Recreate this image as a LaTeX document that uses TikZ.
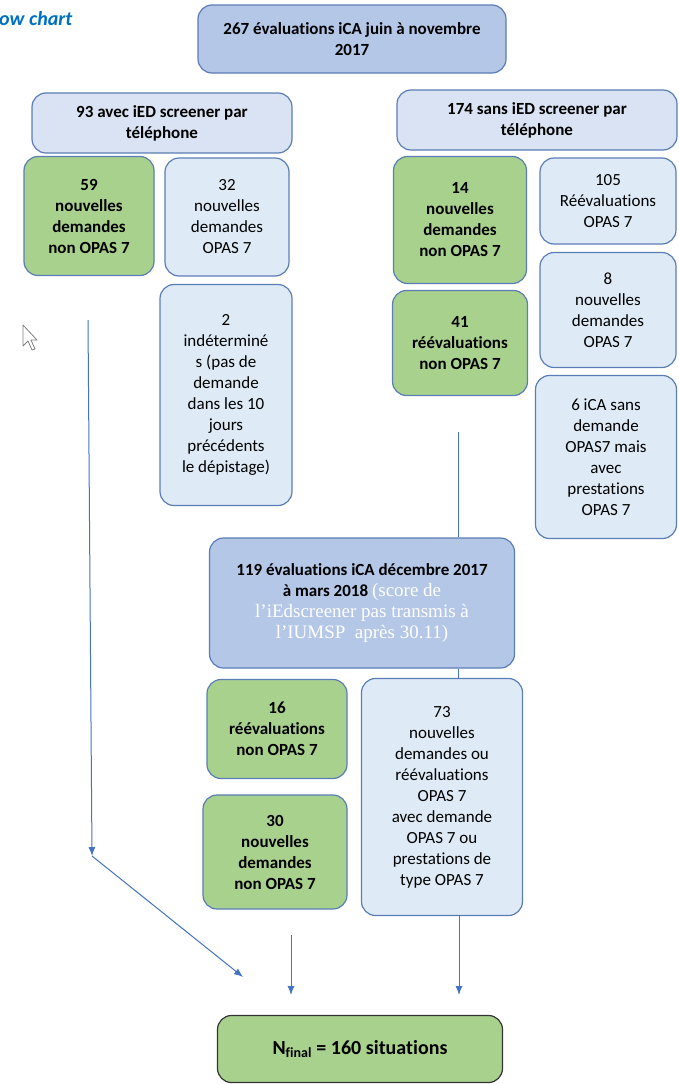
\documentclass[tikz,border=0pt]{standalone}
\usepackage{fontspec}
\setmainfont[Ligatures=NoCommon]{Carlito}
\newfontfamily\timesfont{Liberation Serif}
\usetikzlibrary{arrows.meta}
\usetikzlibrary{positioning}

\definecolor{boxline}{HTML}{5B7DB5}
\definecolor{darkblue}{HTML}{B4C7E7}
\definecolor{lightblue}{HTML}{DAE3F3}
\definecolor{paleblue}{HTML}{DEEBF7}
\definecolor{okgreen}{HTML}{A9D18E}
\definecolor{arrowblue}{HTML}{4472C4}
\definecolor{titleblue}{HTML}{0070C0}

\begin{document}
\begin{tikzpicture}[x=1pt, y=-1pt,
  box/.style={draw=boxline, line width=1.2pt, rounded corners=14pt, inner sep=0pt, align=center, font=\fontsize{17}{21}\selectfont},
  darkbox/.style={box, fill=darkblue, font=\fontsize{17}{21}\selectfont\bfseries},
  headbox/.style={box, fill=lightblue, font=\fontsize{17}{21}\selectfont\bfseries},
  palebox/.style={box, fill=paleblue},
  greenbox/.style={box, fill=okgreen, font=\fontsize{17}{21}\selectfont\bfseries},
  link/.style={draw=arrowblue, line width=1pt},
  arrow/.style={link, -{Latex[length=9pt, width=7pt]}}]
\useasboundingbox (0,0) rectangle (678,1084);
\node[anchor=base west, inner sep=0pt, text=titleblue, font=\fontsize{20}{22}\selectfont\bfseries\itshape] (title) at (-1,25) {ow chart};
\node[darkbox, minimum width=308pt, minimum height=68pt] (top) at (352,39) {267 évaluations iCA juin à novembre\\2017};
\node[headbox, minimum width=260pt, minimum height=60pt] (avec) at (162,123) {93 avec iED screener par\\téléphone};
\node[headbox, minimum width=280pt, minimum height=60pt] (sans) at (537,120) {174 sans iED screener par\\téléphone};
\node[greenbox, minimum width=130pt, minimum height=119pt] (g59) at (89,216) {59\\nouvelles\\demandes\\non OPAS 7};
\node[palebox, minimum width=124pt, minimum height=118pt] (b32) at (227,217) {32\\nouvelles\\demandes\\OPAS 7};
\node[palebox, minimum width=132pt, minimum height=221pt] (ind) at (226,395) {2\\indéterminé\\s (pas de\\demande\\dans les 10\\jours\\précédents\\le dépistage)};
\node[greenbox, minimum width=133pt, minimum height=127pt] (g14) at (460,220) {14\\nouvelles\\demandes\\non OPAS 7};
\node[palebox, minimum width=136pt, minimum height=86pt] (b105) at (608,201) {105\\Réévaluations\\OPAS 7};
\node[palebox, minimum width=136pt, minimum height=115pt] (b8) at (608,310) {8\\nouvelles\\demandes\\OPAS 7};
\node[greenbox, minimum width=135pt, minimum height=105pt] (g41) at (460,343) {41\\réévaluations\\non OPAS 7};
\node[palebox, minimum width=141pt, minimum height=163pt] (b6) at (606,457) {6 iCA sans\\demande\\OPAS7 mais\\avec\\prestations\\OPAS 7};
\node[darkbox, minimum width=305pt, minimum height=130pt] (d119) at (362,603) {119 évaluations iCA décembre 2017\\à mars 2018 {\timesfont\mdseries\fontsize{19}{21}\selectfont\color{white}(score de}\\{\timesfont\mdseries\fontsize{19}{21}\selectfont\color{white}l’iEdscreener pas transmis à}\\{\timesfont\mdseries\fontsize{19}{21}\selectfont\color{white}l’IUMSP\ \ après 30.11)}};
\node[greenbox, minimum width=140pt, minimum height=99pt] (g16) at (277,729) {16\\réévaluations\\non OPAS 7};
\node[greenbox, minimum width=144pt, minimum height=114pt] (g30) at (275,852) {30\\nouvelles\\demandes\\non OPAS 7};
\node[palebox, minimum width=161pt, minimum height=237pt] (b73) at (442,797) {73\\nouvelles\\demandes ou\\réévaluations\\OPAS 7\\avec demande\\OPAS 7 ou\\prestations de\\type OPAS 7};
\node[box, draw=black!80, fill=okgreen, minimum width=285pt, minimum height=67pt, font=\fontsize{20}{24}\selectfont\bfseries] (final) at (360,1049) {N\textsubscript{final} = 160 situations};
\coordinate (l1) at (88,320);
\coordinate (l2) at (92,856);
\coordinate (l3) at (243,977);
\coordinate (m1) at (458,432);
\coordinate (c1) at (291,935);
\coordinate (c2) at (291,995);
\coordinate (r1) at (459,915);
\coordinate (r2) at (459,995);
\draw[arrow] (l1) -- (l2);
\draw[arrow] (l2) -- (l3);
\draw[link] (m1) -- (d119.north -| m1);
\draw[link] (d119.south -| m1) -- (b73.north -| m1);
\draw[arrow] (c1) -- (c2);
\draw[arrow] (r1) -- (r2);
\draw[gray, fill=white, line width=0.8pt, line join=round] (23,325) -- (23,346) -- (28,341) -- (32,350) -- (35,349) -- (31,340) -- (37,340) -- cycle;
\end{tikzpicture}
\end{document}
